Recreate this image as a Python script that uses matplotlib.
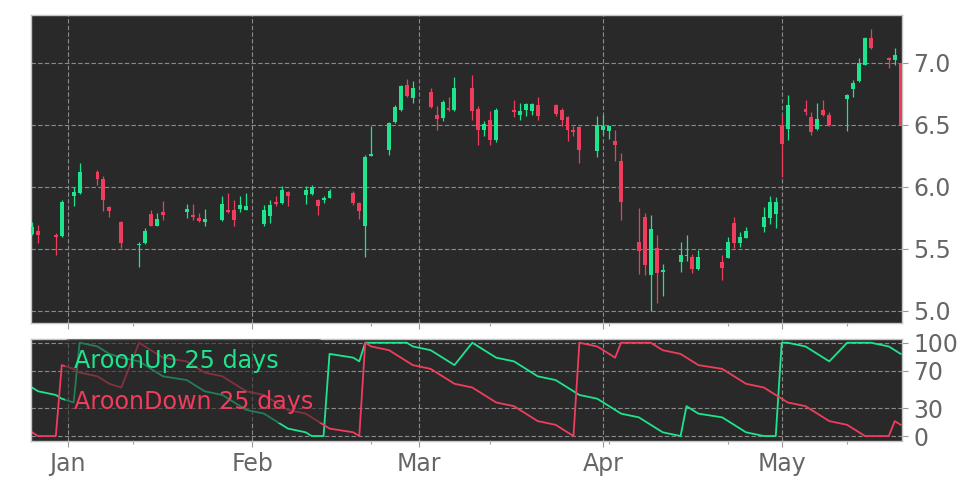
import matplotlib
matplotlib.use("Agg")
import matplotlib.pyplot as plt
import matplotlib.dates as mdates
from matplotlib.ticker import FixedLocator, FormatStrFormatter
import numpy as np
import pandas as pd

# trading days, 2024-12-26 .. 2025-05-21
dates = pd.to_datetime([
    "2024-12-26", "2024-12-27", "2024-12-30", "2024-12-31", "2025-01-02", "2025-01-03",
    "2025-01-06", "2025-01-07", "2025-01-08", "2025-01-10", "2025-01-13", "2025-01-14",
    "2025-01-15", "2025-01-16", "2025-01-17", "2025-01-21", "2025-01-22", "2025-01-23",
    "2025-01-24", "2025-01-27", "2025-01-28", "2025-01-29", "2025-01-30", "2025-01-31",
    "2025-02-03", "2025-02-04", "2025-02-05", "2025-02-06", "2025-02-07", "2025-02-10",
    "2025-02-11", "2025-02-12", "2025-02-13", "2025-02-14", "2025-02-18", "2025-02-19",
    "2025-02-20", "2025-02-21", "2025-02-24", "2025-02-25", "2025-02-26", "2025-02-27",
    "2025-02-28", "2025-03-03", "2025-03-04", "2025-03-05", "2025-03-06", "2025-03-07",
    "2025-03-10", "2025-03-11", "2025-03-12", "2025-03-13", "2025-03-14", "2025-03-17",
    "2025-03-18", "2025-03-19", "2025-03-20", "2025-03-21", "2025-03-24", "2025-03-25",
    "2025-03-26", "2025-03-27", "2025-03-28", "2025-03-31", "2025-04-01", "2025-04-02",
    "2025-04-03", "2025-04-04", "2025-04-07", "2025-04-08", "2025-04-09", "2025-04-10",
    "2025-04-11", "2025-04-14", "2025-04-15", "2025-04-16", "2025-04-17", "2025-04-21",
    "2025-04-22", "2025-04-23", "2025-04-24", "2025-04-25", "2025-04-28", "2025-04-29",
    "2025-04-30", "2025-05-01", "2025-05-02", "2025-05-05", "2025-05-06", "2025-05-07",
    "2025-05-08", "2025-05-09", "2025-05-12", "2025-05-13", "2025-05-14", "2025-05-15",
    "2025-05-16", "2025-05-19", "2025-05-20", "2025-05-21",
])

opens = [5.623, 5.644, 5.609, 5.607, 5.929, 5.948, 6.122, 6.063, 5.838, 5.719,
         5.529, 5.545, 5.785, 5.688, 5.801, 5.796, 5.777, 5.750, 5.715, 5.731,
         5.817, 5.817, 5.823, 5.817, 5.704, 5.769, 5.882, 5.871, 5.962, 5.938,
         5.946, 5.898, 5.892, 5.915, 5.948, 5.867, 5.687, 6.251, 6.297, 6.525,
         6.624, 6.825, 6.718, 6.763, 6.583, 6.556, 6.634, 6.618, 6.798, 6.632,
         6.462, 6.543, 6.382, 6.624, 6.578, 6.618, 6.616, 6.664, 6.664, 6.624,
         6.565, 6.462, 6.484, 6.290, 6.457, 6.449, 6.368, 6.207, 5.554, 5.761,
         5.290, 5.510, 5.315, 5.397, 5.440, 5.432, 5.338, 5.392, 5.430, 5.706,
         5.545, 5.591, 5.679, 5.752, 5.779, 6.498, 6.471, 6.627, 6.565, 6.471,
         6.624, 6.579, 6.707, 6.788, 6.852, 6.987, 7.201, 7.040, 7.021, 7.000]
highs = [5.720, 5.693, 5.626, 5.894, 6.001, 6.190, 6.136, 6.090, 5.848, 5.725,
         5.553, 5.666, 5.812, 5.790, 5.884, 5.866, 5.866, 5.790, 5.823, 5.925,
         5.952, 5.898, 5.925, 5.952, 5.858, 5.898, 5.925, 6.011, 5.968, 6.011,
         6.019, 5.903, 5.930, 5.983, 5.966, 5.881, 6.256, 6.493, 6.525, 6.659,
         6.825, 6.871, 6.852, 6.798, 6.656, 6.704, 6.726, 6.887, 6.906, 6.651,
         6.530, 6.610, 6.637, 6.704, 6.677, 6.677, 6.677, 6.726, 6.672, 6.637,
         6.575, 6.495, 6.495, 6.575, 6.583, 6.495, 6.457, 6.274, 5.831, 5.788,
         5.778, 5.610, 5.380, 5.553, 5.612, 5.456, 5.491, 5.451, 5.599, 5.760,
         5.634, 5.677, 5.840, 5.929, 5.921, 6.579, 6.740, 6.699, 6.605, 6.681,
         6.699, 6.605, 6.753, 6.860, 7.040, 7.209, 7.276, 7.048, 7.121, 7.000]
lows = [5.610, 5.545, 5.451, 5.599, 5.848, 5.942, 6.020, 5.805, 5.760, 5.505,
        5.352, 5.537, 5.683, 5.683, 5.737, 5.750, 5.737, 5.715, 5.683, 5.723,
        5.790, 5.683, 5.796, 5.812, 5.688, 5.710, 5.850, 5.866, 5.844, 5.866,
        5.938, 5.777, 5.871, 5.913, 5.854, 5.741, 5.438, 6.248, 6.256, 6.517,
        6.616, 6.726, 6.677, 6.637, 6.457, 6.530, 6.610, 6.613, 6.538, 6.341,
        6.409, 6.341, 6.360, 6.565, 6.538, 6.570, 6.583, 6.538, 6.570, 6.495,
        6.368, 6.409, 6.194, 6.242, 6.422, 6.387, 6.207, 5.737, 5.301, 5.290,
        5.000, 5.065, 5.120, 5.311, 5.403, 5.303, 5.330, 5.250, 5.424, 5.510,
        5.513, 5.585, 5.639, 5.698, 5.671, 6.082, 6.377, 6.584, 6.423, 6.458,
        6.573, 6.493, 6.450, 6.726, 6.847, 6.981, 7.110, 6.960, 6.987, 6.500]
closes = [5.677, 5.612, 5.593, 5.881, 5.961, 6.117, 6.063, 5.894, 5.805, 5.545,
          5.542, 5.644, 5.688, 5.745, 5.774, 5.823, 5.758, 5.723, 5.742, 5.866,
          5.801, 5.731, 5.858, 5.849, 5.812, 5.858, 5.863, 5.973, 5.925, 5.978,
          5.997, 5.850, 5.911, 5.969, 5.867, 5.805, 6.240, 6.262, 6.517, 6.646,
          6.817, 6.731, 6.798, 6.645, 6.551, 6.683, 6.618, 6.798, 6.610, 6.457,
          6.511, 6.376, 6.624, 6.602, 6.616, 6.672, 6.672, 6.575, 6.589, 6.538,
          6.457, 6.441, 6.296, 6.500, 6.495, 6.489, 6.341, 5.876, 5.481, 5.371,
          5.663, 5.310, 5.328, 5.451, 5.451, 5.336, 5.432, 5.344, 5.558, 5.545,
          5.599, 5.644, 5.760, 5.881, 5.875, 6.350, 6.659, 6.605, 6.444, 6.552,
          6.579, 6.503, 6.745, 6.842, 7.000, 7.201, 7.121, 7.027, 7.067, 6.500]

aroon_up = [52, 48, 44, 40, 36,
            100, 96, 92, 88, 84, 80, 76, 72, 68, 64, 60, 56, 52, 48, 44, 40, 36, 32, 28,
            24, 20, 16, 12, 8, 4, 0,
            0, 0, 88, 84, 80,
            100, 100, 100, 100, 100, 100, 96, 92, 88, 84, 80, 76,
            100, 96, 92, 88, 84, 80, 76, 72, 68, 64, 60, 56, 52, 48, 44, 40, 36, 32, 28,
            24, 20, 16, 12, 8, 4, 0,
            32, 28, 24, 20, 16, 12, 8, 4, 0, 0, 0,
            100, 100, 96, 92, 88, 84, 80,
            100, 100, 100, 100, 100, 96, 92, 88]
aroon_down = [4, 0, 0, 76, 72, 68, 64, 60, 56, 52,
              100, 96, 92, 88, 84, 80, 76, 72, 68, 64, 60, 56, 52, 48, 44, 40, 36, 32, 28,
              24, 20, 16, 12, 8, 4, 0,
              100, 96, 92, 88, 84, 80, 76, 72, 68, 64, 60, 56, 52, 48, 44, 40, 36, 32, 28,
              24, 20, 16, 12, 8, 4, 0,
              100, 96, 92, 88, 84,
              100, 100, 100, 100,
              96, 92, 88, 84, 80, 76, 72, 68, 64, 60, 56, 52, 48, 44, 40, 36, 32, 28,
              24, 20, 16, 12, 8, 4, 0,
              0, 0, 16, 12]

price_ticks = [5.0, 5.5, 6.0, 6.5, 7.0]
aroon_ticks = [0, 30, 70, 100]
minor_days = pd.to_datetime(["2025-01-12", "2025-02-01", "2025-02-21", "2025-03-13",
                             "2025-04-02", "2025-04-22", "2025-05-12"])
labels = ["AroonUp 25 days", "AroonDown 25 days"]

UP = "#1ee48e"
DOWN = "#ef3d5d"
BG = "#292929"
TXT = "#666666"

fig = plt.figure(figsize=(9.72, 4.86), dpi=100)
ax = fig.add_axes([0.0316, 0.3354, 0.8967, 0.6337])
ax2 = fig.add_axes([0.0316, 0.0932, 0.8967, 0.2093], sharex=ax)

x = mdates.date2num(dates)
o = np.array(opens)
c = np.array(closes)
cols = [UP if cc >= oo else DOWN for oo, cc in zip(o, c)]

ax.vlines(x, lows, highs, colors=cols, lw=0.9, zorder=3)
body = np.maximum(np.abs(c - o), 0.012)
ax.bar(x, body, bottom=np.minimum(o, c), width=0.66, color=cols, lw=0, zorder=4)

ax2.plot(x, aroon_up, color=UP, lw=1.3, label=labels[0])
ax2.plot(x, aroon_down, color=DOWN, lw=1.3, label=labels[1])

ax.set_xlim(x[0] - 0.22, x[-1] + 0.27)
ax.set_ylim(4.903, 7.387)
ax2.set_ylim(-5, 104)
ax.set_yticks(price_ticks)
ax.yaxis.set_major_formatter(FormatStrFormatter("%.1f"))
ax2.set_yticks(aroon_ticks)

ax.xaxis.set_major_locator(mdates.MonthLocator())
ax.xaxis.set_minor_locator(FixedLocator(mdates.date2num(minor_days)))
ax2.xaxis.set_major_formatter(mdates.DateFormatter("%b"))

for a in (ax, ax2):
    a.set_facecolor(BG)
    a.yaxis.tick_right()
    a.grid(True, which="major", color="#8a8a8a", ls=(0, (4, 2)), lw=0.8)
    a.set_axisbelow(True)
    for s in a.spines.values():
        s.set_color("#c4c4c4")
        s.set_linewidth(1)
    a.tick_params(which="major", length=4, width=0.8, color="#999999",
                  labelcolor=TXT, labelsize=17, pad=4)
    a.tick_params(which="minor", length=2.5, width=0.8, color="#999999")
ax.tick_params(labelbottom=False)

leg = ax2.legend(loc="upper left", bbox_to_anchor=(0.039, 1.0), borderaxespad=0,
                 handlelength=0, handletextpad=0, labelcolor="linecolor",
                 fontsize=17.2, frameon=True, facecolor=BG, edgecolor="none",
                 framealpha=0.55, labelspacing=0.72, borderpad=0.4)
for h in leg.legend_handles:
    h.set_visible(False)

fig.savefig("out.png", dpi=100, facecolor="white")
